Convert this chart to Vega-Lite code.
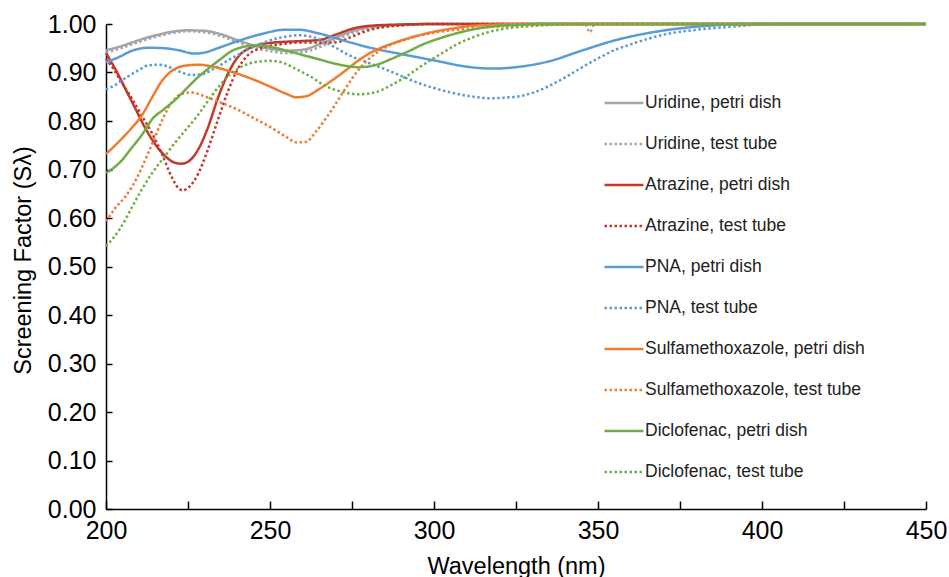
{
"$schema": "https://vega.github.io/schema/vega-lite/v6.json",
"width": 820, "height": 485,
"autosize": {"type": "none"},
"padding": {"left": 106, "top": 24, "right": 23, "bottom": 68},
"background": "white",
"config": {"view": {"stroke": null}, "font": "Liberation Sans"},
"data": {"values": [
{"s":"Uridine, petri dish","x":200,"y":0.946},{"s":"Uridine, petri dish","x":204,"y":0.953},{"s":"Uridine, petri dish","x":208,"y":0.962},{"s":"Uridine, petri dish","x":212,"y":0.971},{"s":"Uridine, petri dish","x":216,"y":0.978},{"s":"Uridine, petri dish","x":220,"y":0.984},{"s":"Uridine, petri dish","x":225,"y":0.987},{"s":"Uridine, petri dish","x":230,"y":0.986},{"s":"Uridine, petri dish","x":235,"y":0.979},{"s":"Uridine, petri dish","x":240,"y":0.967},{"s":"Uridine, petri dish","x":245,"y":0.956},{"s":"Uridine, petri dish","x":250,"y":0.949},{"s":"Uridine, petri dish","x":255,"y":0.945},{"s":"Uridine, petri dish","x":260,"y":0.947},{"s":"Uridine, petri dish","x":265,"y":0.958},{"s":"Uridine, petri dish","x":270,"y":0.972},{"s":"Uridine, petri dish","x":275,"y":0.985},{"s":"Uridine, petri dish","x":280,"y":0.993},{"s":"Uridine, petri dish","x":285,"y":0.996},{"s":"Uridine, petri dish","x":290,"y":0.998},{"s":"Uridine, petri dish","x":300,"y":1.0},{"s":"Uridine, petri dish","x":450,"y":1.0},
{"s":"Uridine, test tube","x":200,"y":0.941},{"s":"Uridine, test tube","x":204,"y":0.949},{"s":"Uridine, test tube","x":208,"y":0.958},{"s":"Uridine, test tube","x":212,"y":0.967},{"s":"Uridine, test tube","x":216,"y":0.975},{"s":"Uridine, test tube","x":220,"y":0.981},{"s":"Uridine, test tube","x":225,"y":0.985},{"s":"Uridine, test tube","x":230,"y":0.983},{"s":"Uridine, test tube","x":235,"y":0.975},{"s":"Uridine, test tube","x":240,"y":0.963},{"s":"Uridine, test tube","x":245,"y":0.951},{"s":"Uridine, test tube","x":250,"y":0.944},{"s":"Uridine, test tube","x":255,"y":0.940},{"s":"Uridine, test tube","x":260,"y":0.942},{"s":"Uridine, test tube","x":265,"y":0.952},{"s":"Uridine, test tube","x":270,"y":0.967},{"s":"Uridine, test tube","x":275,"y":0.981},{"s":"Uridine, test tube","x":280,"y":0.990},{"s":"Uridine, test tube","x":285,"y":0.995},{"s":"Uridine, test tube","x":290,"y":0.998},{"s":"Uridine, test tube","x":300,"y":1.0},{"s":"Uridine, test tube","x":346,"y":1.0},{"s":"Uridine, test tube","x":347.5,"y":0.983},{"s":"Uridine, test tube","x":349,"y":1.0},{"s":"Uridine, test tube","x":450,"y":1.0},
{"s":"Atrazine, petri dish","x":200,"y":0.940},{"s":"Atrazine, petri dish","x":203,"y":0.905},{"s":"Atrazine, petri dish","x":206,"y":0.865},{"s":"Atrazine, petri dish","x":209,"y":0.825},{"s":"Atrazine, petri dish","x":212,"y":0.785},{"s":"Atrazine, petri dish","x":215,"y":0.752},{"s":"Atrazine, petri dish","x":218,"y":0.728},{"s":"Atrazine, petri dish","x":221,"y":0.714},{"s":"Atrazine, petri dish","x":223,"y":0.712},{"s":"Atrazine, petri dish","x":225,"y":0.716},{"s":"Atrazine, petri dish","x":228,"y":0.740},{"s":"Atrazine, petri dish","x":231,"y":0.785},{"s":"Atrazine, petri dish","x":234,"y":0.845},{"s":"Atrazine, petri dish","x":237,"y":0.895},{"s":"Atrazine, petri dish","x":240,"y":0.930},{"s":"Atrazine, petri dish","x":244,"y":0.951},{"s":"Atrazine, petri dish","x":250,"y":0.961},{"s":"Atrazine, petri dish","x":260,"y":0.965},{"s":"Atrazine, petri dish","x":265,"y":0.967},{"s":"Atrazine, petri dish","x":270,"y":0.978},{"s":"Atrazine, petri dish","x":275,"y":0.990},{"s":"Atrazine, petri dish","x":280,"y":0.996},{"s":"Atrazine, petri dish","x":290,"y":0.999},{"s":"Atrazine, petri dish","x":300,"y":1.0},{"s":"Atrazine, petri dish","x":450,"y":1.0},
{"s":"Atrazine, test tube","x":200,"y":0.928},{"s":"Atrazine, test tube","x":202,"y":0.910},{"s":"Atrazine, test tube","x":205,"y":0.877},{"s":"Atrazine, test tube","x":208,"y":0.845},{"s":"Atrazine, test tube","x":211,"y":0.810},{"s":"Atrazine, test tube","x":214,"y":0.775},{"s":"Atrazine, test tube","x":217,"y":0.733},{"s":"Atrazine, test tube","x":220,"y":0.685},{"s":"Atrazine, test tube","x":222,"y":0.662},{"s":"Atrazine, test tube","x":223.5,"y":0.657},{"s":"Atrazine, test tube","x":225,"y":0.662},{"s":"Atrazine, test tube","x":228,"y":0.690},{"s":"Atrazine, test tube","x":231,"y":0.740},{"s":"Atrazine, test tube","x":234,"y":0.800},{"s":"Atrazine, test tube","x":237,"y":0.858},{"s":"Atrazine, test tube","x":240,"y":0.905},{"s":"Atrazine, test tube","x":243,"y":0.934},{"s":"Atrazine, test tube","x":247,"y":0.950},{"s":"Atrazine, test tube","x":252,"y":0.957},{"s":"Atrazine, test tube","x":260,"y":0.962},{"s":"Atrazine, test tube","x":270,"y":0.962},{"s":"Atrazine, test tube","x":275,"y":0.974},{"s":"Atrazine, test tube","x":280,"y":0.987},{"s":"Atrazine, test tube","x":290,"y":0.997},{"s":"Atrazine, test tube","x":300,"y":1.0},{"s":"Atrazine, test tube","x":450,"y":1.0},
{"s":"PNA, petri dish","x":200,"y":0.921},{"s":"PNA, petri dish","x":204,"y":0.932},{"s":"PNA, petri dish","x":208,"y":0.945},{"s":"PNA, petri dish","x":213,"y":0.951},{"s":"PNA, petri dish","x":218,"y":0.950},{"s":"PNA, petri dish","x":222,"y":0.946},{"s":"PNA, petri dish","x":227,"y":0.939},{"s":"PNA, petri dish","x":230,"y":0.941},{"s":"PNA, petri dish","x":234,"y":0.950},{"s":"PNA, petri dish","x":239,"y":0.962},{"s":"PNA, petri dish","x":244,"y":0.973},{"s":"PNA, petri dish","x":249,"y":0.982},{"s":"PNA, petri dish","x":254,"y":0.988},{"s":"PNA, petri dish","x":259,"y":0.988},{"s":"PNA, petri dish","x":264,"y":0.982},{"s":"PNA, petri dish","x":269,"y":0.973},{"s":"PNA, petri dish","x":275,"y":0.961},{"s":"PNA, petri dish","x":280,"y":0.952},{"s":"PNA, petri dish","x":290,"y":0.938},{"s":"PNA, petri dish","x":300,"y":0.925},{"s":"PNA, petri dish","x":310,"y":0.912},{"s":"PNA, petri dish","x":318,"y":0.908},{"s":"PNA, petri dish","x":325,"y":0.911},{"s":"PNA, petri dish","x":335,"y":0.923},{"s":"PNA, petri dish","x":345,"y":0.945},{"s":"PNA, petri dish","x":355,"y":0.966},{"s":"PNA, petri dish","x":365,"y":0.981},{"s":"PNA, petri dish","x":375,"y":0.991},{"s":"PNA, petri dish","x":385,"y":0.997},{"s":"PNA, petri dish","x":395,"y":1.0},{"s":"PNA, petri dish","x":450,"y":1.0},
{"s":"PNA, test tube","x":200,"y":0.865},{"s":"PNA, test tube","x":203,"y":0.875},{"s":"PNA, test tube","x":206,"y":0.889},{"s":"PNA, test tube","x":210,"y":0.905},{"s":"PNA, test tube","x":213,"y":0.915},{"s":"PNA, test tube","x":216,"y":0.916},{"s":"PNA, test tube","x":219,"y":0.912},{"s":"PNA, test tube","x":222,"y":0.903},{"s":"PNA, test tube","x":226,"y":0.895},{"s":"PNA, test tube","x":229,"y":0.896},{"s":"PNA, test tube","x":233,"y":0.908},{"s":"PNA, test tube","x":238,"y":0.928},{"s":"PNA, test tube","x":244,"y":0.950},{"s":"PNA, test tube","x":249,"y":0.964},{"s":"PNA, test tube","x":254,"y":0.973},{"s":"PNA, test tube","x":259,"y":0.977},{"s":"PNA, test tube","x":264,"y":0.971},{"s":"PNA, test tube","x":269,"y":0.955},{"s":"PNA, test tube","x":274,"y":0.936},{"s":"PNA, test tube","x":280,"y":0.920},{"s":"PNA, test tube","x":285,"y":0.907},{"s":"PNA, test tube","x":290,"y":0.893},{"s":"PNA, test tube","x":295,"y":0.879},{"s":"PNA, test tube","x":300,"y":0.868},{"s":"PNA, test tube","x":305,"y":0.859},{"s":"PNA, test tube","x":311,"y":0.851},{"s":"PNA, test tube","x":317,"y":0.847},{"s":"PNA, test tube","x":325,"y":0.850},{"s":"PNA, test tube","x":330,"y":0.858},{"s":"PNA, test tube","x":335,"y":0.872},{"s":"PNA, test tube","x":340,"y":0.890},{"s":"PNA, test tube","x":345,"y":0.910},{"s":"PNA, test tube","x":350,"y":0.929},{"s":"PNA, test tube","x":355,"y":0.946},{"s":"PNA, test tube","x":360,"y":0.958},{"s":"PNA, test tube","x":365,"y":0.969},{"s":"PNA, test tube","x":370,"y":0.978},{"s":"PNA, test tube","x":380,"y":0.988},{"s":"PNA, test tube","x":390,"y":0.994},{"s":"PNA, test tube","x":400,"y":0.999},{"s":"PNA, test tube","x":410,"y":1.0},{"s":"PNA, test tube","x":450,"y":1.0},
{"s":"Sulfamethoxazole, petri dish","x":200,"y":0.732},{"s":"Sulfamethoxazole, petri dish","x":204,"y":0.758},{"s":"Sulfamethoxazole, petri dish","x":208,"y":0.787},{"s":"Sulfamethoxazole, petri dish","x":211,"y":0.812},{"s":"Sulfamethoxazole, petri dish","x":214,"y":0.848},{"s":"Sulfamethoxazole, petri dish","x":217,"y":0.882},{"s":"Sulfamethoxazole, petri dish","x":220,"y":0.903},{"s":"Sulfamethoxazole, petri dish","x":224,"y":0.914},{"s":"Sulfamethoxazole, petri dish","x":228,"y":0.916},{"s":"Sulfamethoxazole, petri dish","x":232,"y":0.913},{"s":"Sulfamethoxazole, petri dish","x":238,"y":0.902},{"s":"Sulfamethoxazole, petri dish","x":244,"y":0.888},{"s":"Sulfamethoxazole, petri dish","x":250,"y":0.871},{"s":"Sulfamethoxazole, petri dish","x":255,"y":0.856},{"s":"Sulfamethoxazole, petri dish","x":258,"y":0.849},{"s":"Sulfamethoxazole, petri dish","x":261,"y":0.851},{"s":"Sulfamethoxazole, petri dish","x":265,"y":0.866},{"s":"Sulfamethoxazole, petri dish","x":269,"y":0.884},{"s":"Sulfamethoxazole, petri dish","x":273,"y":0.904},{"s":"Sulfamethoxazole, petri dish","x":277,"y":0.925},{"s":"Sulfamethoxazole, petri dish","x":281,"y":0.942},{"s":"Sulfamethoxazole, petri dish","x":285,"y":0.954},{"s":"Sulfamethoxazole, petri dish","x":290,"y":0.966},{"s":"Sulfamethoxazole, petri dish","x":295,"y":0.976},{"s":"Sulfamethoxazole, petri dish","x":300,"y":0.984},{"s":"Sulfamethoxazole, petri dish","x":305,"y":0.990},{"s":"Sulfamethoxazole, petri dish","x":310,"y":0.995},{"s":"Sulfamethoxazole, petri dish","x":320,"y":0.999},{"s":"Sulfamethoxazole, petri dish","x":330,"y":1.0},{"s":"Sulfamethoxazole, petri dish","x":450,"y":1.0},
{"s":"Sulfamethoxazole, test tube","x":200,"y":0.593},{"s":"Sulfamethoxazole, test tube","x":203,"y":0.622},{"s":"Sulfamethoxazole, test tube","x":206,"y":0.645},{"s":"Sulfamethoxazole, test tube","x":208,"y":0.665},{"s":"Sulfamethoxazole, test tube","x":211,"y":0.705},{"s":"Sulfamethoxazole, test tube","x":214,"y":0.752},{"s":"Sulfamethoxazole, test tube","x":217,"y":0.800},{"s":"Sulfamethoxazole, test tube","x":220,"y":0.838},{"s":"Sulfamethoxazole, test tube","x":223,"y":0.856},{"s":"Sulfamethoxazole, test tube","x":226,"y":0.859},{"s":"Sulfamethoxazole, test tube","x":230,"y":0.851},{"s":"Sulfamethoxazole, test tube","x":235,"y":0.838},{"s":"Sulfamethoxazole, test tube","x":240,"y":0.824},{"s":"Sulfamethoxazole, test tube","x":245,"y":0.806},{"s":"Sulfamethoxazole, test tube","x":250,"y":0.788},{"s":"Sulfamethoxazole, test tube","x":255,"y":0.767},{"s":"Sulfamethoxazole, test tube","x":258,"y":0.756},{"s":"Sulfamethoxazole, test tube","x":261,"y":0.757},{"s":"Sulfamethoxazole, test tube","x":264,"y":0.778},{"s":"Sulfamethoxazole, test tube","x":267,"y":0.805},{"s":"Sulfamethoxazole, test tube","x":270,"y":0.835},{"s":"Sulfamethoxazole, test tube","x":273,"y":0.867},{"s":"Sulfamethoxazole, test tube","x":276,"y":0.897},{"s":"Sulfamethoxazole, test tube","x":280,"y":0.927},{"s":"Sulfamethoxazole, test tube","x":285,"y":0.951},{"s":"Sulfamethoxazole, test tube","x":290,"y":0.965},{"s":"Sulfamethoxazole, test tube","x":295,"y":0.975},{"s":"Sulfamethoxazole, test tube","x":300,"y":0.982},{"s":"Sulfamethoxazole, test tube","x":310,"y":0.990},{"s":"Sulfamethoxazole, test tube","x":320,"y":0.995},{"s":"Sulfamethoxazole, test tube","x":330,"y":0.998},{"s":"Sulfamethoxazole, test tube","x":340,"y":1.0},{"s":"Sulfamethoxazole, test tube","x":450,"y":1.0},
{"s":"Diclofenac, petri dish","x":200,"y":0.693},{"s":"Diclofenac, petri dish","x":204,"y":0.713},{"s":"Diclofenac, petri dish","x":208,"y":0.746},{"s":"Diclofenac, petri dish","x":211,"y":0.772},{"s":"Diclofenac, petri dish","x":214,"y":0.803},{"s":"Diclofenac, petri dish","x":218,"y":0.826},{"s":"Diclofenac, petri dish","x":221,"y":0.843},{"s":"Diclofenac, petri dish","x":225,"y":0.870},{"s":"Diclofenac, petri dish","x":228,"y":0.890},{"s":"Diclofenac, petri dish","x":231,"y":0.907},{"s":"Diclofenac, petri dish","x":235,"y":0.928},{"s":"Diclofenac, petri dish","x":238,"y":0.943},{"s":"Diclofenac, petri dish","x":242,"y":0.953},{"s":"Diclofenac, petri dish","x":246,"y":0.956},{"s":"Diclofenac, petri dish","x":250,"y":0.953},{"s":"Diclofenac, petri dish","x":255,"y":0.945},{"s":"Diclofenac, petri dish","x":260,"y":0.936},{"s":"Diclofenac, petri dish","x":265,"y":0.927},{"s":"Diclofenac, petri dish","x":270,"y":0.918},{"s":"Diclofenac, petri dish","x":277,"y":0.911},{"s":"Diclofenac, petri dish","x":282,"y":0.915},{"s":"Diclofenac, petri dish","x":287,"y":0.928},{"s":"Diclofenac, petri dish","x":292,"y":0.943},{"s":"Diclofenac, petri dish","x":297,"y":0.959},{"s":"Diclofenac, petri dish","x":302,"y":0.971},{"s":"Diclofenac, petri dish","x":307,"y":0.981},{"s":"Diclofenac, petri dish","x":312,"y":0.989},{"s":"Diclofenac, petri dish","x":318,"y":0.995},{"s":"Diclofenac, petri dish","x":325,"y":0.998},{"s":"Diclofenac, petri dish","x":335,"y":1.0},{"s":"Diclofenac, petri dish","x":450,"y":1.0},
{"s":"Diclofenac, test tube","x":200,"y":0.542},{"s":"Diclofenac, test tube","x":204,"y":0.575},{"s":"Diclofenac, test tube","x":208,"y":0.623},{"s":"Diclofenac, test tube","x":211,"y":0.660},{"s":"Diclofenac, test tube","x":214,"y":0.692},{"s":"Diclofenac, test tube","x":218,"y":0.728},{"s":"Diclofenac, test tube","x":221,"y":0.755},{"s":"Diclofenac, test tube","x":224,"y":0.779},{"s":"Diclofenac, test tube","x":228,"y":0.812},{"s":"Diclofenac, test tube","x":232,"y":0.850},{"s":"Diclofenac, test tube","x":235,"y":0.876},{"s":"Diclofenac, test tube","x":238,"y":0.897},{"s":"Diclofenac, test tube","x":242,"y":0.914},{"s":"Diclofenac, test tube","x":246,"y":0.922},{"s":"Diclofenac, test tube","x":250,"y":0.924},{"s":"Diclofenac, test tube","x":254,"y":0.920},{"s":"Diclofenac, test tube","x":258,"y":0.907},{"s":"Diclofenac, test tube","x":262,"y":0.893},{"s":"Diclofenac, test tube","x":267,"y":0.872},{"s":"Diclofenac, test tube","x":272,"y":0.860},{"s":"Diclofenac, test tube","x":277,"y":0.855},{"s":"Diclofenac, test tube","x":282,"y":0.859},{"s":"Diclofenac, test tube","x":287,"y":0.874},{"s":"Diclofenac, test tube","x":292,"y":0.894},{"s":"Diclofenac, test tube","x":297,"y":0.917},{"s":"Diclofenac, test tube","x":302,"y":0.938},{"s":"Diclofenac, test tube","x":307,"y":0.958},{"s":"Diclofenac, test tube","x":312,"y":0.973},{"s":"Diclofenac, test tube","x":317,"y":0.984},{"s":"Diclofenac, test tube","x":322,"y":0.991},{"s":"Diclofenac, test tube","x":330,"y":0.996},{"s":"Diclofenac, test tube","x":340,"y":0.999},{"s":"Diclofenac, test tube","x":350,"y":1.0},{"s":"Diclofenac, test tube","x":450,"y":1.0}
]},
"mark": {"type": "line", "interpolate": "monotone", "strokeWidth": 2.5, "strokeCap": "butt"},
"encoding": {
  "x": {"field": "x", "type": "quantitative",
    "scale": {"domain": [200, 450], "nice": false, "zero": false},
    "axis": {"values": [200,225,250,275,300,325,350,375,400,425,450],
      "labelExpr": "datum.value % 50 === 0 ? datum.label : ''",
      "title": "Wavelength (nm)", "grid": false,
      "domainColor": "black", "domainWidth": 1.5,
      "tickColor": "black", "tickWidth": 1.5, "tickSize": -8,
      "labelFont": "Liberation Sans", "labelFontSize": 25, "labelColor": "black",
      "labelPadding": 17, "labelFlush": false, "labelOverlap": false,
      "titleFont": "Liberation Sans", "titleFontSize": 23.5, "titleFontWeight": "normal", "titleColor": "black",
      "titleY": 64, "titleBaseline": "alphabetic"}},
  "y": {"field": "y", "type": "quantitative",
    "scale": {"domain": [0, 1], "nice": false},
    "axis": {"values": [0,0.1,0.2,0.3,0.4,0.5,0.6,0.7,0.8,0.9,1.0], "format": ".2f",
      "title": "Screening Factor (Sλ)", "grid": false,
      "domainColor": "black", "domainWidth": 1.5,
      "tickColor": "black", "tickWidth": 1.5, "tickSize": -6,
      "labelFont": "Liberation Sans", "labelFontSize": 25, "labelColor": "black",
      "labelPadding": 16, "labelFlush": false, "labelOverlap": false,
      "titleFont": "Liberation Sans", "titleFontSize": 23.5, "titleFontWeight": "normal", "titleColor": "black",
      "titleX": -83, "titleY": 236, "titleBaseline": "middle", "titleAngle": -90}},
  "color": {"field": "s", "type": "nominal",
    "scale": {"domain": ["Uridine, petri dish","Uridine, test tube","Atrazine, petri dish","Atrazine, test tube","PNA, petri dish","PNA, test tube","Sulfamethoxazole, petri dish","Sulfamethoxazole, test tube","Diclofenac, petri dish","Diclofenac, test tube"],
      "range": ["#A5A5A5","#A5A5A5","#C0392B","#C0392B","#5B9BD5","#5B9BD5","#ED7D31","#ED7D31","#70AD47","#70AD47"]},
    "legend": {"title": null, "orient": "none", "legendX": 497, "legendY": 58, "padding": 0,
      "symbolType": "stroke", "symbolSize": 1521, "symbolStrokeWidth": 2.5,
      "labelFont": "Liberation Sans", "labelFontSize": 17.5, "labelColor": "#222", "labelOffset": 0,
      "rowPadding": 11, "labelLimit": 400}},
  "strokeDash": {"field": "s", "type": "nominal",
    "scale": {"domain": ["Uridine, petri dish","Uridine, test tube","Atrazine, petri dish","Atrazine, test tube","PNA, petri dish","PNA, test tube","Sulfamethoxazole, petri dish","Sulfamethoxazole, test tube","Diclofenac, petri dish","Diclofenac, test tube"],
      "range": [[1,0],[2.5,2.5],[1,0],[2.5,2.5],[1,0],[2.5,2.5],[1,0],[2.5,2.5],[1,0],[2.5,2.5]]},
    "legend": {"title": null, "orient": "none", "legendX": 497, "legendY": 58, "padding": 0,
      "symbolType": "stroke", "symbolSize": 1521, "symbolStrokeWidth": 2.5,
      "labelFont": "Liberation Sans", "labelFontSize": 17.5, "labelColor": "#222", "labelOffset": 0,
      "rowPadding": 11, "labelLimit": 400}}
}
}
